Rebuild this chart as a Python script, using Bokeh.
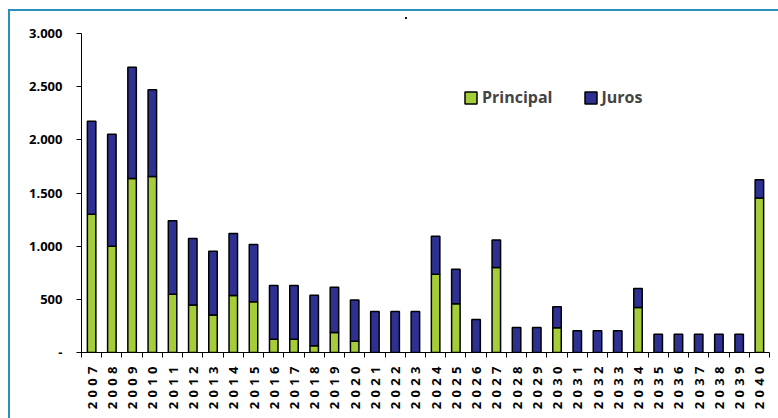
from math import pi
from bokeh.plotting import figure
from bokeh.models import ColumnDataSource, FixedTicker, Range1d, InlineStyleSheet
from bokeh.embed import file_html
from bokeh.resources import INLINE

years = list(range(2007, 2041))
principal = [1300, 1000, 1636, 1655, 548, 447, 352, 535, 478, 125, 125, 64, 188, 106,
             0, 0, 0, 737, 459, 0, 800, 0, 0, 232, 0, 0, 0, 424, 0, 0, 0, 0, 0, 1454]
totals = [2175, 2053, 2682, 2470, 1239, 1072, 952, 1119, 1015, 630, 630, 538, 614, 494,
          386, 386, 386, 1094, 784, 311, 1059, 235, 235, 431, 204, 204, 204, 601,
          172, 172, 172, 172, 172, 1624]
juros = [t - p for t, p in zip(totals, principal)]
y_ticks = [0, 500, 1000, 1500, 2000, 2500, 3000]
y_labels = ["-", "500", "1.000", "1.500", "2.000", "2.500", "3.000"]
series = ["Principal", "Juros"]
colors = ["#a5cd39", "#2e3192"]

x = [i + 0.5 for i in range(len(years))]
src = ColumnDataSource(dict(x=x, principal=principal, juros=juros))

p = figure(width=778, height=418, output_backend="svg", toolbar_location=None,
           x_range=Range1d(0, len(years)), y_range=Range1d(0, 3000),
           min_border_left=81, min_border_right=9, min_border_top=33, min_border_bottom=66)
p.outline_line_color = None
p.xgrid.grid_line_color = None
p.ygrid.grid_line_color = None

p.vbar_stack(["principal", "juros"], x="x", width=0.42, color=colors,
             line_color="black", line_width=1.5, source=src, legend_label=series)

FONT = "Open Sans"
# y axis
p.yaxis.ticker = FixedTicker(ticks=y_ticks, minor_ticks=[])
p.yaxis.major_label_overrides = {t: l for t, l in zip(y_ticks, y_labels)}
p.yaxis.major_label_text_font = FONT
p.yaxis.major_label_text_font_style = "bold"
p.yaxis.major_label_text_font_size = "13px"
p.yaxis.major_label_text_color = "black"
p.yaxis.major_tick_out = 5
p.yaxis.major_tick_in = 0
p.yaxis.minor_tick_line_color = None
p.yaxis.axis_line_color = "black"
p.yaxis.major_tick_line_color = "black"
p.yaxis.major_label_standoff = 14

# x axis (ticks at category boundaries, labels at centres)
p.xaxis.ticker = FixedTicker(ticks=x, minor_ticks=list(range(len(years) + 1)))
p.xaxis.major_label_overrides = {xx: "\u2004".join(str(y)) for xx, y in zip(x, years)}
p.xaxis.major_label_orientation = pi / 2
p.xaxis.major_label_text_font = FONT
p.xaxis.major_label_text_font_style = "bold"
p.xaxis.major_label_text_font_size = "13px"
p.xaxis.major_label_text_color = "black"
p.xaxis.major_tick_line_color = None
p.xaxis.minor_tick_out = 5
p.xaxis.minor_tick_in = 0
p.xaxis.minor_tick_line_color = "black"
p.xaxis.axis_line_color = "black"
p.xaxis.major_label_standoff = 8

# legend
lg = p.legend[0]
lg.orientation = "horizontal"
lg.location = (382, 244)
lg.border_line_color = None
lg.background_fill_alpha = 0
lg.padding = 0
lg.margin = 0
lg.spacing = 30
lg.glyph_width = 15
lg.glyph_height = 15
lg.label_height = 15
lg.label_standoff = 4
lg.label_text_font = FONT
lg.label_text_font_style = "bold"
lg.label_text_font_size = "16px"

# outer teal frame (top and left edges visible in the crop) and stray dot
p.stylesheets = [InlineStyleSheet(css="""
:host::before {
  content: "";
  position: absolute;
  left: 8px; top: 9px;
  width: 770px; height: 409px;
  box-sizing: border-box;
  border-top: 2.5px solid #2a8fbd;
  border-left: 2.5px solid #2a8fbd;
  pointer-events: none;
  z-index: 10;
}
:host::after {
  content: "";
  position: absolute;
  left: 405px; top: 17px;
  width: 2px; height: 2px;
  background: #111;
  pointer-events: none;
  z-index: 10;
}
""")]

open("out.html", "w").write(file_html(p, INLINE))
